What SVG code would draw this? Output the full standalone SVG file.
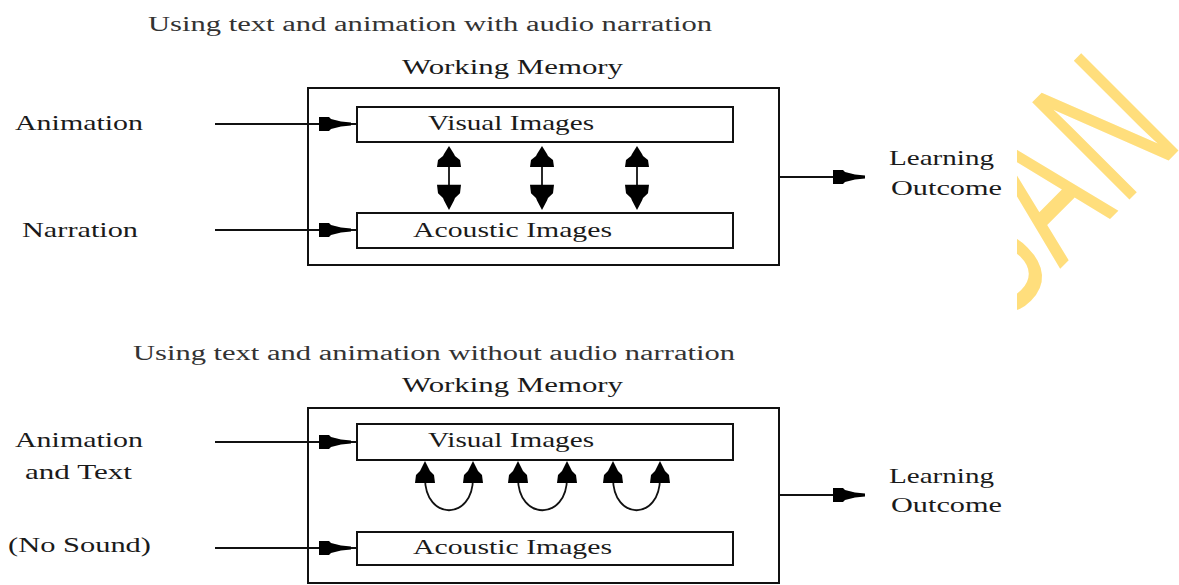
<svg xmlns="http://www.w3.org/2000/svg" width="1179" height="585" viewBox="0 0 1179 585">
<style>
  .t { font-family: "Liberation Serif", "Times New Roman", serif; fill: #1a1a1a; }
  .title { font-size: 20px; fill: #333; }
  .lbl { font-size: 22px; }
  .box { fill: #fff; stroke: #111; stroke-width: 2; }
  .ln { fill: none; stroke: #111; stroke-width: 1.8; }
  .ah { fill: #000; }
  .wm { font-family: "Liberation Sans", "DejaVu Sans", sans-serif; font-size: 200px; fill: #FFDE7C; }
</style>
<defs>
  <path id="hArrow" d="M0,-1.5 L-10,-2.5 L-20,-5 L-22,-7 L-32,-7 L-32,7 L-22,7 L-20,5 L-10,2.5 L0,1.5 Z"/>
  <path id="vArrow" d="M0,0 L5,8 L6,10 L11,14 L12,21 L-12,21 L-11,14 L-6,10 L-5,8 Z"/>
  <path id="uArrow" d="M0,0 L4,8 L5,10 L9,14 L10,22 L-10,22 L-9,14 L-5,10 L-4,8 Z"/>
  <clipPath id="wmClip"><rect x="1017" y="0" width="162" height="585"/></clipPath>
</defs>

<g id="watermark" clip-path="url(#wmClip)">
  <g transform="translate(1060,269) rotate(-45) scale(0.62,1)">
    <text class="wm" x="-137" y="0">S</text>
    <text class="wm" x="0" y="0">A</text>
    <text class="wm" x="142" y="0">N</text>
  </g>
</g>

<!-- Top diagram -->
<text class="t title" x="148" y="31" textLength="564" lengthAdjust="spacingAndGlyphs">Using text and animation with audio narration</text>
<g id="wm1">
  <rect class="box" x="308" y="88" width="471" height="177"/>
  <text class="t lbl" x="402" y="74" textLength="221" lengthAdjust="spacingAndGlyphs">Working Memory</text>
</g>
<g id="visual1">
  <rect class="box" x="357" y="107" width="376" height="35"/>
  <text class="t lbl" x="428" y="130" textLength="166" lengthAdjust="spacingAndGlyphs">Visual Images</text>
</g>
<g id="acoustic1">
  <rect class="box" x="357" y="213" width="376" height="35"/>
  <text class="t lbl" x="413" y="237" textLength="199" lengthAdjust="spacingAndGlyphs">Acoustic Images</text>
</g>
<g id="animation1"><text class="t lbl" x="15" y="130" textLength="128" lengthAdjust="spacingAndGlyphs">Animation</text></g>
<g id="narration1"><text class="t lbl" x="22" y="237" textLength="116" lengthAdjust="spacingAndGlyphs">Narration</text></g>
<g id="outcome1">
  <text class="t lbl" x="889" y="165" textLength="105" lengthAdjust="spacingAndGlyphs">Learning</text>
  <text class="t lbl" x="891" y="195" textLength="111" lengthAdjust="spacingAndGlyphs">Outcome</text>
</g>

<!-- Bottom diagram -->
<text class="t title" x="133" y="360" textLength="602" lengthAdjust="spacingAndGlyphs">Using text and animation without audio narration</text>
<g id="wm2">
  <rect class="box" x="308" y="408" width="471" height="175"/>
  <text class="t lbl" x="402" y="392" textLength="221" lengthAdjust="spacingAndGlyphs">Working Memory</text>
</g>
<g id="visual2">
  <rect class="box" x="357" y="424" width="376" height="36"/>
  <text class="t lbl" x="428" y="447" textLength="166" lengthAdjust="spacingAndGlyphs">Visual Images</text>
</g>
<g id="acoustic2">
  <rect class="box" x="357" y="532" width="376" height="33"/>
  <text class="t lbl" x="413" y="554" textLength="199" lengthAdjust="spacingAndGlyphs">Acoustic Images</text>
</g>
<g id="animation2">
  <text class="t lbl" x="15" y="447" textLength="128" lengthAdjust="spacingAndGlyphs">Animation</text>
  <text class="t lbl" x="25" y="479" textLength="107" lengthAdjust="spacingAndGlyphs">and Text</text>
</g>
<g id="nosound2"><text class="t lbl" x="8" y="552" textLength="143" lengthAdjust="spacingAndGlyphs">(No Sound)</text></g>
<g id="outcome2">
  <text class="t lbl" x="889" y="483" textLength="105" lengthAdjust="spacingAndGlyphs">Learning</text>
  <text class="t lbl" x="891" y="512" textLength="111" lengthAdjust="spacingAndGlyphs">Outcome</text>
</g>

<g id="connectors">
  <!-- top inputs -->
  <line class="ln" x1="215" y1="124" x2="357" y2="124"/>
  <use href="#hArrow" class="ah" transform="translate(351,124)"/>
  <line class="ln" x1="215" y1="230" x2="357" y2="230"/>
  <use href="#hArrow" class="ah" transform="translate(351,230)"/>
  <!-- top output -->
  <line class="ln" x1="779" y1="177" x2="864" y2="177"/>
  <use href="#hArrow" class="ah" transform="translate(865,177)"/>
  <!-- top double arrows -->
  <g>
    <line class="ln" x1="449" y1="160" x2="449" y2="200"/>
    <use href="#vArrow" class="ah" transform="translate(449,146)"/>
    <use href="#vArrow" class="ah" transform="translate(449,210) scale(1,-1.2)"/>
    <line class="ln" x1="542" y1="160" x2="542" y2="200"/>
    <use href="#vArrow" class="ah" transform="translate(542,146)"/>
    <use href="#vArrow" class="ah" transform="translate(542,210) scale(1,-1.2)"/>
    <line class="ln" x1="637" y1="160" x2="637" y2="200"/>
    <use href="#vArrow" class="ah" transform="translate(637,146)"/>
    <use href="#vArrow" class="ah" transform="translate(637,210) scale(1,-1.2)"/>
  </g>
  <!-- bottom inputs -->
  <line class="ln" x1="215" y1="442" x2="357" y2="442"/>
  <use href="#hArrow" class="ah" transform="translate(351,442)"/>
  <line class="ln" x1="215" y1="548" x2="357" y2="548"/>
  <use href="#hArrow" class="ah" transform="translate(351,548)"/>
  <!-- bottom output -->
  <line class="ln" x1="779" y1="495" x2="864" y2="495"/>
  <use href="#hArrow" class="ah" transform="translate(865,495)"/>
  <!-- bottom loops -->
  <path class="ln" d="M425,478 C425,521 473,521 473,478"/>
  <use href="#uArrow" class="ah" transform="translate(425,461)"/>
  <use href="#uArrow" class="ah" transform="translate(473,461)"/>
  <path class="ln" d="M518,478 C518,521 567,521 567,478"/>
  <use href="#uArrow" class="ah" transform="translate(518,461)"/>
  <use href="#uArrow" class="ah" transform="translate(567,461)"/>
  <path class="ln" d="M613,478 C613,521 660,521 660,478"/>
  <use href="#uArrow" class="ah" transform="translate(613,461)"/>
  <use href="#uArrow" class="ah" transform="translate(660,461)"/>
</g>
</svg>
